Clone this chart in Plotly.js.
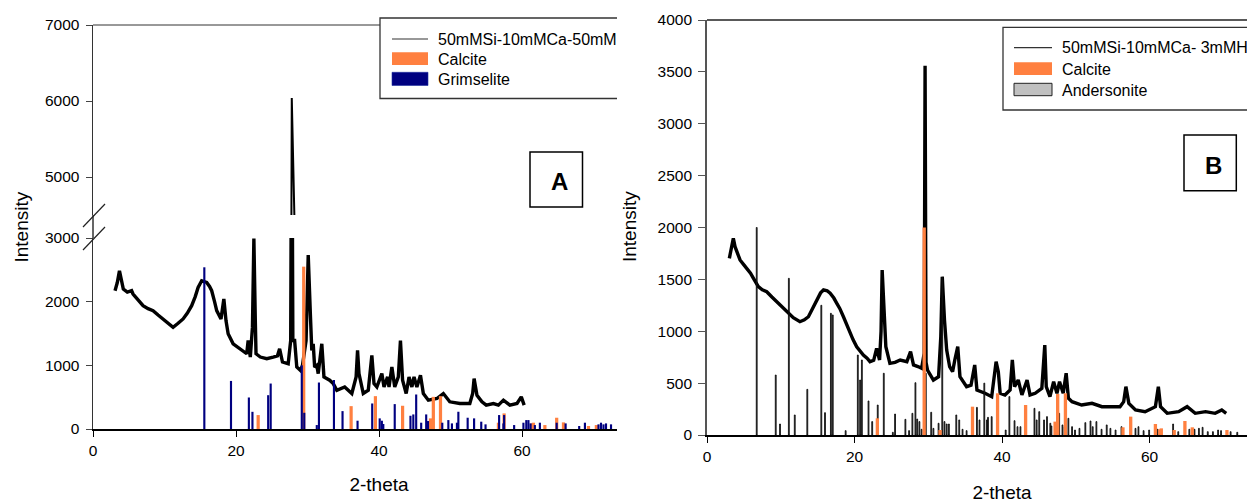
<!DOCTYPE html>
<html>
<head>
<meta charset="utf-8">
<script src="https://cdn.plot.ly/plotly-3.0.1.min.js"></script>
<style>
html,body{margin:0;padding:0;background:#fff;width:1247px;height:503px;overflow:hidden;}
#wrapA{position:absolute;left:0;top:0;width:617px;height:503px;overflow:hidden;}
#wrapB{position:absolute;left:620px;top:0;width:627px;height:503px;overflow:hidden;}
#chartA{width:700px;height:503px;}
#chartB{width:720px;height:503px;}
</style>
</head>
<body>
<div id="wrapA"><div id="chartA"></div></div>
<div id="wrapB"><div id="chartB"></div></div>
<script>
// ---------------- DATA: panel A ----------------
const thetaA = [3.08,3.4,3.7,4.0,4.24,4.8,5.4,5.6,6.3,7.0,
  7.7,8.4,9.1,9.8,10.5,11.2,11.9,12.6,13.2,13.8,
  14.3,14.7,15.2,15.9,16.3,16.6,17.0,17.3,17.9,18.3,
  18.6,18.9,19.6,20.6,21.5,21.7,22.0,22.3,22.5,22.7,
  22.8,23.4,24.3,25.2,25.8,26.1,26.5,27.3,27.65,27.8,
  27.95,28.2,28.5,29.0,29.3,29.8,30.1,30.4,30.6,30.8,
  31.0,31.3,31.5,32.0,32.3,33.1,33.6,34.1,35.2,36.2,
  36.8,37.0,37.2,37.8,38.5,39.0,39.3,39.7,40.4,40.7,
  41.2,41.4,41.8,42.2,42.7,43.0,43.3,43.8,44.2,44.6,
  44.9,45.3,45.8,46.2,46.9,48.1,49.0,49.9,51.3,52.7,
  53.1,53.3,53.7,54.4,55.0,56.0,56.7,57.4,58.3,59.3,
  59.9,60.3];
const intensityA = [2172,2300,2484,2350,2198,2150,2172,2120,2020,1937,
  1890,1859,1790,1729,1660,1598,1660,1729,1820,1937,
  2080,2224,2328,2302,2240,2172,2000,1859,1729,2042,
  1703,1495,1339,1260,1182,1390,1130,1600,2990,1700,
  1182,1130,1104,1130,1150,1260,1052,1026,1390,6040,
  1390,1390,973,922,1000,1390,2734,1807,1234,1339,
  973,1000,870,1339,818,766,713,609,661,557,
  818,1234,870,557,609,1156,713,661,870,661,
  818,661,973,661,818,1390,766,557,818,661,
  818,661,844,557,453,479,557,427,400,400,
  557,792,531,427,375,400,375,453,375,400,
  505,375];
const calciteThetaA = [23.1,29.47,36.1,39.5,43.3,47.2,47.6,48.6,56.7,57.5,61.4,61.6,63.2,64.85,65.8,69.3,70.4];
const calciteIntA   = [219,2550,359,516,365,167,505,516,99,245,88,99,62,177,104,47,62];
const grimThetaA = [15.57,19.3,21.8,22.3,24.5,24.85,29.2,29.55,31.3,31.6,
  33.7,34.9,37.0,39.05,40.1,40.4,40.6,42.2,44.4,44.8,
  45.2,45.9,46.6,46.85,48.85,49.7,50.2,50.9,51.1,52.4,
  53.3,54.3,54.9,56.8,57.4,57.5,58.9,60.2,60.6,60.9,
  61.2,61.8,62.5,64.85,66.1,68.0,68.8,70.7,71.05,71.4,
  71.75,72.45];
const grimIntA = [2540,755,495,270,531,714,1000,255,62,730,
  770,281,130,401,167,130,78,391,208,229,
  542,99,229,125,99,140,88,99,271,177,
  167,115,73,219,88,219,62,99,140,140,
  88,62,99,99,88,47,99,73,99,73,
  88,73];
const xTicks = [0,20,40,60];
const yTicksALow = [0,1000,2000,3000];
const yTicksAHigh = [5000,6000,7000];
const legendA = ['50mMSi-10mMCa-50mMHCO3','Calcite','Grimselite'];

// ---------------- DATA: panel B ----------------
const thetaB = [3.03,3.3,3.57,3.8,4.1,4.48,5.0,5.39,5.9,6.3,
  6.96,7.5,8.1,8.8,9.46,10.1,10.8,11.7,12.6,13.2,
  13.75,14.3,14.9,15.4,15.8,16.3,16.7,17.2,17.6,18.0,
  18.5,19.0,19.4,19.8,20.3,20.8,21.2,21.7,22.1,22.6,
  23.0,23.4,23.6,23.75,23.9,24.05,24.25,24.8,25.5,26.2,
  27.1,27.6,28.0,28.6,29.1,29.45,29.57,29.7,29.9,30.7,
  31.4,31.7,31.9,32.2,32.5,32.9,33.3,33.6,34.0,34.3,
  35.2,35.8,36.3,36.6,37.2,37.7,38.6,39.2,39.5,39.75,
  40.4,41.1,41.4,41.7,42.2,42.7,43.4,43.8,44.5,45.4,
  45.8,46.0,46.5,47.0,47.45,47.8,48.3,48.7,49.0,49.5,
  50.8,52.2,53.55,54.9,56.0,56.5,56.8,57.2,58.1,59.4,
  60.8,61.2,61.5,62.4,63.95,65.1,66.2,67.6,68.9,69.8,
  70.4];
const intensityB = [1703,1800,1896,1815,1760,1687,1640,1607,1560,1510,
  1430,1400,1381,1330,1285,1240,1188,1130,1092,1110,
  1140,1220,1301,1370,1398,1390,1366,1320,1269,1220,
  1140,1050,980,920,851,800,771,740,707,720,
  835,723,1000,1590,1400,1250,851,691,700,723,
  707,803,675,660,643,787,3560,700,626,530,
  562,947,1526,1108,819,658,610,723,851,562,
  466,480,675,434,420,402,369,707,610,402,
  386,434,723,466,530,386,530,386,402,450,
  867,466,369,514,402,514,402,595,354,321,
  289,305,273,273,273,321,466,305,241,225,
  273,466,273,209,225,273,209,225,209,241,
  209];
const calciteThetaB = [23.1,29.45,31.6,36.0,39.4,43.2,47.2,47.55,48.6,56.4,57.45,60.8,61.4,61.6,63.35,64.8,65.8,70.5];
const calciteIntB   = [161,2000,48,273,402,289,129,395,402,74,177,106,55,64,48,135,74,48];
const andThetaB = [6.74,9.32,9.9,11.1,11.9,13.6,15.5,16.0,16.8,17.05,
  18.8,20.45,20.76,21.0,21.9,22.4,23.15,23.97,25.2,25.5,
  26.9,27.4,27.85,28.26,28.5,28.8,29.1,29.67,30.4,30.7,
  31.4,31.9,32.2,32.5,32.8,33.8,34.2,34.65,35.2,36.6,
  36.95,37.6,37.95,38.1,38.6,40.5,41.0,41.7,42.1,42.5,
  44.4,44.7,45.05,45.7,46.1,46.55,46.7,47.75,48.2,48.5,
  49.0,49.5,49.9,50.5,51.3,52.0,52.3,52.8,53.5,54.2,
  54.7,55.4,56.2,57.5,58.1,58.5,59.2,59.95,61.1,63.2,
  63.9,65.4,66.1,66.7,67.2,67.9,68.6,69.3,69.7,71.0,
  71.9];
const andIntB = [2000,578,106,1510,193,440,1250,215,1173,1157,
  42,771,530,723,328,129,289,595,26,202,
  151,42,209,504,154,129,55,595,219,64,
  113,1520,129,106,106,193,145,55,42,266,
  145,500,145,170,177,48,370,138,80,80,
  257,145,225,145,177,113,87,209,97,80,
  161,80,48,64,119,135,80,129,55,97,
  64,48,80,55,64,80,42,48,55,106,
  32,55,55,64,74,32,32,48,42,32,
  26];
const yTicksB = [0,500,1000,1500,2000,2500,3000,3500,4000];
const legendB = ['50mMSi-10mMCa- 3mMHCO3','Calcite','Andersonite'];

// ---------------- STYLE ----------------
const FONT = '"Liberation Sans", Arial, sans-serif';
const TICKFONT = {family: FONT, size: 15.5, color: '#000'};
const LEGFONT = {family: FONT, size: 16, color: '#000'};
const TITLEFONT = {family: FONT, size: 19, color: '#000'};
const ORANGE = '#FF8040', NAVY = '#000080', GREY = '#C0C0C0';
const CURVE_W = 3.4;
const cfg = {staticPlot: true, displayModeBar: false, responsive: false};

// ---------------- PANEL A ----------------
const WA = 700, HA = 503, MA = {l: 93, r: 35, t: 25, b: 74};
const PWA = WA - MA.l - MA.r, PHA = HA - MA.t - MA.b;
const pxA = p => (p - MA.l) / PWA;
const pyA = p => (HA - MA.b - p) / PHA;
const lowTopA = pyA(238), upBotA = pyA(215);

function lineA(x0, y0, x1, y1, color, width) {
  return {type: 'line', xref: 'paper', yref: 'paper', x0: pxA(x0), y0: pyA(y0), x1: pxA(x1), y1: pyA(y1), line: {color: color, width: width}};
}
function rectA(x0, y0, x1, y1, fill, lc, lw) {
  return {type: 'rect', xref: 'paper', yref: 'paper', x0: pxA(x0), y0: pyA(y1), x1: pxA(x1), y1: pyA(y0), fillcolor: fill, line: {color: lc, width: lw}, layer: 'above'};
}
function textA(x, y, t, font, anchor) {
  return {xref: 'paper', yref: 'paper', x: pxA(x), y: pyA(y), text: t, showarrow: false, xanchor: anchor || 'left', yanchor: 'middle', font: font};
}

const patternA = {x: thetaA, y: intensityA, type: 'scatter', mode: 'lines', line: {color: '#000', width: CURVE_W}, showlegend: false};
const tracesA = [
  Object.assign({}, patternA, {xaxis: 'x', yaxis: 'y'}),
  Object.assign({}, patternA, {xaxis: 'x', yaxis: 'y3', line: {color: '#000', width: 2}}),
  {x: calciteThetaA, y: calciteIntA, type: 'bar', xaxis: 'x', yaxis: 'y4', width: 0.45, marker: {color: ORANGE, line: {width: 0}}, showlegend: false},
  {x: grimThetaA, y: grimIntA, type: 'bar', xaxis: 'x', yaxis: 'y4', width: 0.3, marker: {color: NAVY, line: {width: 0}}, showlegend: false}
];

const yBaseA = {ticks: 'outside', ticklen: 6, tickwidth: 1, tickcolor: '#444', showline: true, linecolor: '#333', linewidth: 1.5,
  showgrid: false, zeroline: false, tickfont: TICKFONT, ticklabelstandoff: 3, anchor: 'x', fixedrange: true};

const layoutA = {
  width: WA, height: HA, margin: MA, paper_bgcolor: '#fff', plot_bgcolor: 'rgba(0,0,0,0)',
  showlegend: false, barmode: 'overlay',
  font: {family: FONT, color: '#000'},
  xaxis: {domain: [0, 1], range: [0, 80], anchor: 'y', tickvals: xTicks, ticks: 'outside', ticklen: 6, tickwidth: 1, tickcolor: '#000',
    showline: true, linecolor: '#000', linewidth: 2, showgrid: false, zeroline: false, tickfont: TICKFONT,
    title: {text: '2-theta', font: TITLEFONT, standoff: 20}, automargin: false, fixedrange: true},
  yaxis: Object.assign({}, yBaseA, {domain: [0, lowTopA], range: [0, 3000], tickvals: yTicksALow}),
  yaxis3: Object.assign({}, yBaseA, {domain: [upBotA, 1], range: [4500, 7000], tickvals: yTicksAHigh}),
  yaxis4: {overlaying: 'y', anchor: 'x', range: [0, 3000], visible: false, fixedrange: true},
  shapes: [
    lineA(93, 25, 700, 25, '#333', 1),
    lineA(93, 238, 93, 215, '#333', 1.5),
    lineA(83, 227, 105, 204, '#222', 1.2),
    lineA(83, 250, 105, 227, '#222', 1.2),
    rectA(380, 18, 720, 98.5, '#fff', '#333', 1.3),
    lineA(392, 39, 428, 39, '#333', 1.2),
    rectA(392, 52.3, 428, 65, ORANGE, ORANGE, 0),
    rectA(392, 72.3, 428, 85.5, NAVY, '#2030a0', 0.6),
    rectA(530, 152, 582.5, 207, 'rgba(0,0,0,0)', '#000', 1.5)
  ],
  annotations: [
    textA(436, 39.5, legendA[0], LEGFONT),
    textA(436, 59.5, legendA[1], LEGFONT),
    textA(436, 79.5, legendA[2], LEGFONT),
    textA(559, 181, '<b>A</b>', {family: FONT, size: 24, color: '#000'}, 'center'),
    Object.assign(textA(20.5, 227, 'Intensity', TITLEFONT, 'center'), {textangle: -90})
  ]
};

// ---------------- PANEL B ----------------
const WB = 720, HB = 503, MB = {l: 87, r: 43, t: 20, b: 68};
const OFFB = 620;
const PWB = WB - MB.l - MB.r, PHB = HB - MB.t - MB.b;
const pxB = p => (p - OFFB - MB.l) / PWB;
const pyB = p => (HB - MB.b - p) / PHB;
function lineB(x0, y0, x1, y1, color, width) {
  return {type: 'line', xref: 'paper', yref: 'paper', x0: pxB(x0), y0: pyB(y0), x1: pxB(x1), y1: pyB(y1), line: {color: color, width: width}};
}
function rectB(x0, y0, x1, y1, fill, lc, lw) {
  return {type: 'rect', xref: 'paper', yref: 'paper', x0: pxB(x0), y0: pyB(y1), x1: pxB(x1), y1: pyB(y0), fillcolor: fill, line: {color: lc, width: lw}, layer: 'above'};
}
function textB(x, y, t, font, anchor) {
  return {xref: 'paper', yref: 'paper', x: pxB(x), y: pyB(y), text: t, showarrow: false, xanchor: anchor || 'left', yanchor: 'middle', font: font};
}

const tracesB = [
  {x: thetaB, y: intensityB, type: 'scatter', mode: 'lines', xaxis: 'x', yaxis: 'y', line: {color: '#000', width: CURVE_W}, showlegend: false},
  {x: andThetaB, y: andIntB, type: 'bar', xaxis: 'x', yaxis: 'y2', width: 0.12, marker: {color: '#555', line: {color: '#000', width: 0.8}}, showlegend: false},
  {x: calciteThetaB, y: calciteIntB, type: 'bar', xaxis: 'x', yaxis: 'y2', width: 0.45, marker: {color: ORANGE, line: {width: 0}}, showlegend: false}
];

const layoutB = {
  width: WB, height: HB, margin: MB, paper_bgcolor: 'rgba(0,0,0,0)', plot_bgcolor: 'rgba(0,0,0,0)',
  showlegend: false, barmode: 'overlay',
  font: {family: FONT, color: '#000'},
  xaxis: {domain: [0, 1], range: [0, 80], anchor: 'y', tickvals: xTicks, ticks: 'outside', ticklen: 6, tickwidth: 1, tickcolor: '#000',
    showline: true, linecolor: '#000', linewidth: 2, showgrid: false, zeroline: false, tickfont: TICKFONT,
    title: {text: '2-theta', font: TITLEFONT, standoff: 22}, automargin: false, fixedrange: true},
  yaxis: {domain: [0, 1], range: [0, 4000], tickvals: yTicksB, ticks: 'outside', ticklen: 7, tickwidth: 1, tickcolor: '#555',
    showline: true, linecolor: '#555', linewidth: 1.8, showgrid: false, zeroline: false, tickfont: TICKFONT, ticklabelstandoff: 3,
    anchor: 'x', fixedrange: true},
  yaxis2: {overlaying: 'y', anchor: 'x', range: [0, 4000], visible: false, fixedrange: true},
  shapes: [
    lineB(707, 20, 1300, 20, '#222', 1.3),
    rectB(1003, 27.3, 1320, 110, '#fff', '#333', 1.3),
    lineB(1014, 47.7, 1052, 47.7, '#333', 1.2),
    rectB(1014, 62.3, 1052, 75, ORANGE, ORANGE, 0),
    rectB(1014, 83.3, 1052, 95.7, GREY, '#222', 1),
    rectB(1184, 135, 1236.3, 190.7, 'rgba(0,0,0,0)', '#000', 1.5)
  ],
  annotations: [
    textB(1060, 48, legendB[0], LEGFONT),
    textB(1060, 69, legendB[1], LEGFONT),
    textB(1060, 90, legendB[2], LEGFONT),
    textB(1213, 165.5, '<b>B</b>', {family: FONT, size: 24, color: '#000'}, 'center'),
    Object.assign(textB(630, 227, 'Intensity', TITLEFONT, 'center'), {textangle: -90})
  ]
};

Plotly.newPlot('chartA', tracesA, layoutA, cfg);
Plotly.newPlot('chartB', tracesB, layoutB, cfg);
</script>
</body>
</html>
